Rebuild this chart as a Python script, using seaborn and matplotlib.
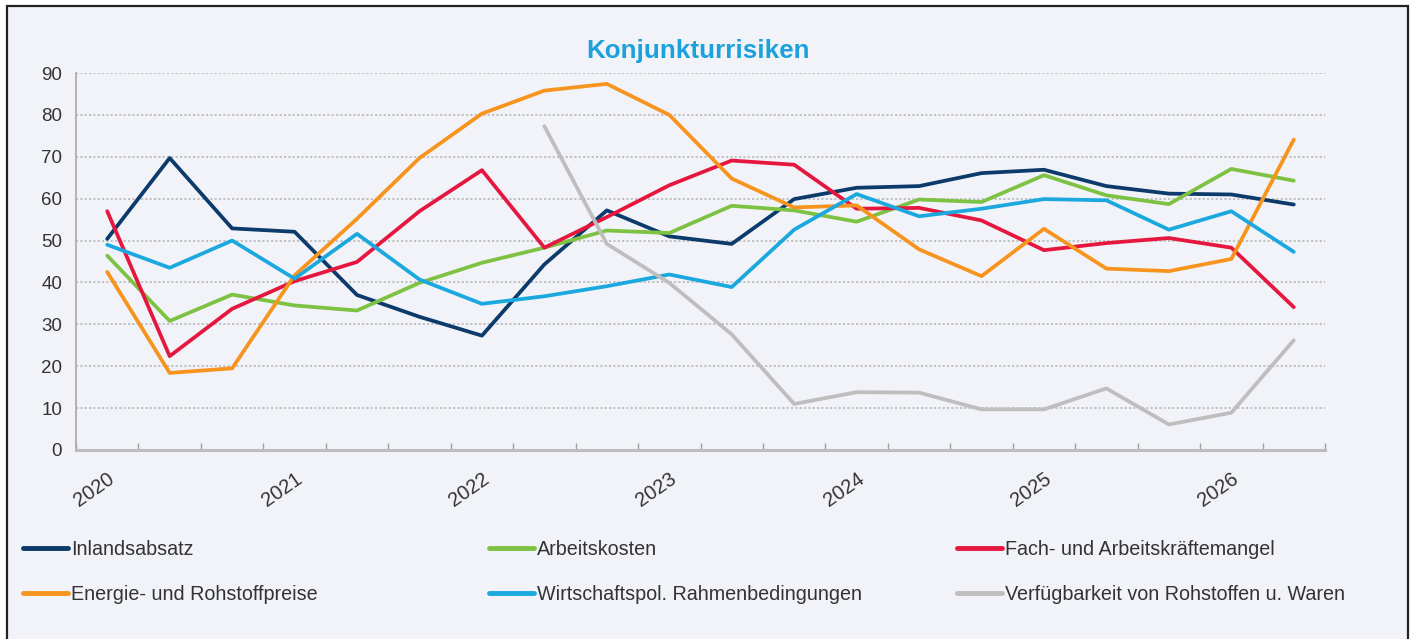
import matplotlib
matplotlib.use("Agg")
import numpy as np
import pandas as pd
import matplotlib.pyplot as plt
import seaborn as sns
from matplotlib.patches import Rectangle
from matplotlib.lines import Line2D

# ---------------- data ----------------
periods = ["2020-1", "2020-2", "2020-3", "2021-1", "2021-2", "2021-3",
           "2022-1", "2022-2", "2022-3", "2023-1", "2023-2", "2023-3",
           "2024-1", "2024-2", "2024-3", "2025-1", "2025-2", "2025-3",
           "2026-1", "2026-2"]
year_labels = ["2020", "2021", "2022", "2023", "2024", "2025", "2026"]

inlandsabsatz = [50.4, 69.7, 52.9, 52.1, 37.0, 31.8, 27.3, 44.3, 57.2, 51.0,
                 49.2, 59.9, 62.6, 63.0, 66.1, 66.9, 63.0, 61.2, 61.0, 58.6]
arbeitskosten = [46.4, 30.8, 37.1, 34.5, 33.3, 39.9, 44.7, 48.3, 52.4, 51.8,
                 58.3, 57.2, 54.5, 59.8, 59.2, 65.6, 60.8, 58.7, 67.1, 64.3]
fachkraefte = [57.0, 22.4, 33.7, 40.3, 44.9, 57.0, 66.8, 48.3, 55.6, 63.2,
               69.1, 68.1, 57.6, 57.8, 54.8, 47.7, 49.4, 50.6, 48.3, 34.1]
energie = [42.5, 18.4, 19.5, 41.7, 55.2, 69.7, 80.3, 85.8, 87.4, 80.0,
           64.8, 57.9, 58.4, 47.9, 41.5, 52.8, 43.3, 42.7, 45.6, 74.1]
wirtschaftspol = [49.0, 43.5, 50.0, 40.9, 51.6, 40.7, 34.9, 36.7, 39.1, 41.9,
                  38.9, 52.6, 61.1, 55.8, 57.6, 59.9, 59.6, 52.6, 57.0, 47.3]
verfuegbarkeit = [None, None, None, None, None, None, None, 77.3, 49.2, 39.9,
                  27.6, 11.0, 13.8, 13.7, 9.7, 9.7, 14.7, 6.1, 8.9, 26.2]

series_names = ["Inlandsabsatz", "Arbeitskosten", "Fach- und Arbeitskräftemangel",
                "Energie- und Rohstoffpreise", "Wirtschaftspol. Rahmenbedingungen",
                "Verfügbarkeit von Rohstoffen u. Waren"]
series_values = [inlandsabsatz, arbeitskosten, fachkraefte, energie,
                 wirtschaftspol, verfuegbarkeit]
series_colors = ["#0B3A6B", "#7DC242", "#E5173F", "#F7941D", "#1BA8DF", "#BEBEBE"]

# ---------------- styling ----------------
W, H = 1413, 639
BG = "#F1F3F8"
TXT = "#333333"

sns.set_theme(style="white")
plt.rcParams["font.family"] = ["Liberation Sans", "DejaVu Sans"]

fig = plt.figure(figsize=(W / 100, H / 100), dpi=100, facecolor="white")
fig.patches.append(Rectangle((7 / W, -0.05), (1408 - 7) / W, (1 - 6 / 639) + 0.05,
                             transform=fig.transFigure, facecolor=BG,
                             edgecolor="#222222", linewidth=1.6, zorder=-10))

ax = fig.add_axes([76 / W, 1 - 450 / H, (1325 - 76) / W, (450 - 73) / H])
ax.set_facecolor("none")

rows = []
for name, vals in zip(series_names, series_values):
    for i, (p, v) in enumerate(zip(periods, vals)):
        rows.append({"pos": i, "period": p, "series": name,
                     "value": np.nan if v is None else v})
df = pd.DataFrame(rows)

sns.lineplot(data=df.dropna(), x="pos", y="value", hue="series",
             hue_order=series_names, palette=dict(zip(series_names, series_colors)),
             linewidth=2.7, legend=False, sort=False, ax=ax, zorder=3)

ax.set_xlim(-0.5, len(periods) - 0.5)
ax.set_ylim(0, 90)
ax.set_xlabel("")
ax.set_ylabel("")

ax.set_yticks(np.arange(0, 91, 10))
ax.tick_params(axis="y", direction="out", length=5, width=1, color="#A0A0A0",
               labelsize=13.5, labelcolor=TXT, pad=5)
ax.grid(axis="y", color="#BDBDBD", linestyle=(0, (1.2, 1.2)), linewidth=1.3)
ax.grid(axis="x", visible=False)

ax.set_xticks(np.arange(0, len(periods), 3))
ax.set_xticklabels(year_labels, rotation=35, ha="right", va="top",
                   rotation_mode="anchor", fontsize=14.5, color=TXT)
ax.set_xticks(np.arange(-0.5, len(periods), 1), minor=True)
ax.tick_params(axis="x", which="major", length=0, pad=14)
ax.tick_params(axis="x", which="minor", direction="in", length=5, width=1,
               color="#A0A0A0", bottom=True)

for s in ["top", "right"]:
    ax.spines[s].set_visible(False)
ax.spines["left"].set_color("#A8A8A8")
ax.spines["left"].set_linewidth(1.2)
ax.spines["bottom"].set_color("#BDBDBD")
ax.spines["bottom"].set_linewidth(2.2)

fig.text(698 / W, 1 - 51 / H, "Konjunkturrisiken", ha="center", va="center",
         fontsize=18.7, fontweight="bold", color="#1BA1DB")

# legend: three columns placed like the original
col_groups = [(0, 3), (1, 4), (2, 5)]
col_x = [23, 489, 957]
for (a, b), x0 in zip(col_groups, col_x):
    handles = [Line2D([], [], color=series_colors[k], linewidth=3.5) for k in (a, b)]
    labels = [series_names[a], series_names[b]]
    fig.legend(handles, labels, loc="upper left",
               bbox_to_anchor=(x0 / W, 1 - 540 / H), frameon=False,
               fontsize=14.2, labelcolor=TXT, handlelength=2.3, handletextpad=0.12,
               borderpad=0, borderaxespad=0, labelspacing=1.3)

fig.savefig("out.png", dpi=100, facecolor=fig.get_facecolor())
